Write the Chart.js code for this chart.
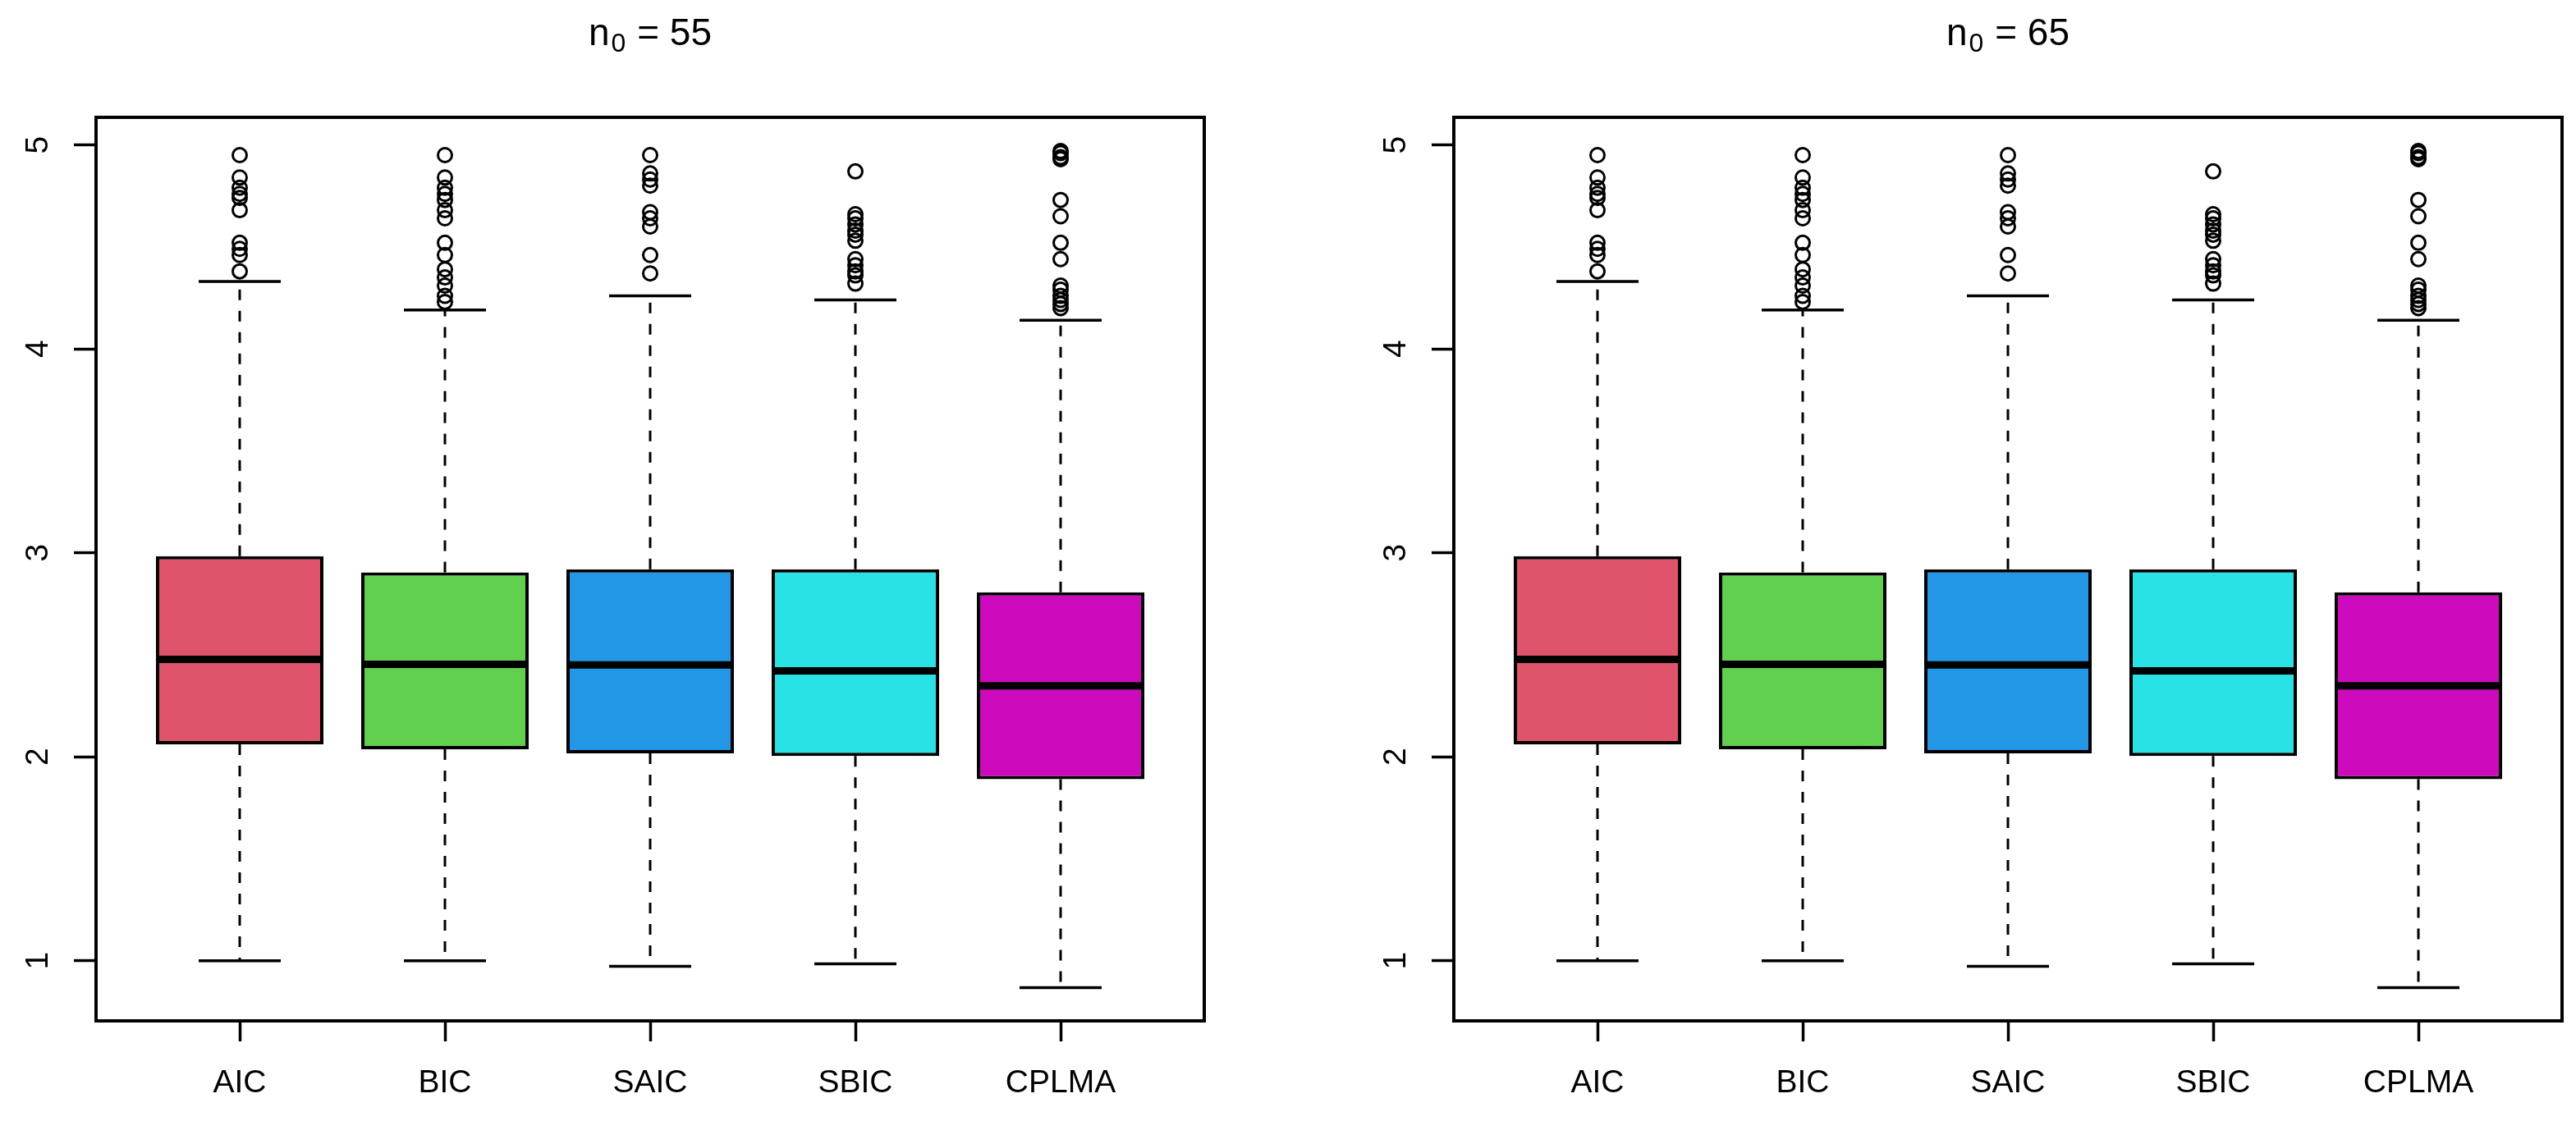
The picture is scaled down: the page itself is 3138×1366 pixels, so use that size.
<!DOCTYPE html>
<html>
<head>
<meta charset="utf-8">
<script src="https://cdn.jsdelivr.net/npm/chart.js@4.4.1/dist/chart.umd.min.js"></script>
<style>
  html, body { margin: 0; padding: 0; background: #ffffff; overflow: hidden; }
  body { width: 3138px; height: 1366px; position: relative; }
  canvas { position: absolute; top: 0; }
</style>
</head>
<body>
<canvas id="panelLeft" width="1480" height="1366" style="left:0px"></canvas>
<canvas id="panelRight" width="1480" height="1366" style="left:1654px"></canvas>
<script>
// ---------------- data ----------------
const categories = ['AIC', 'BIC', 'SAIC', 'SBIC', 'CPLMA'];
const q1Values = [2.061, 2.037, 2.017, 2.004, 1.890];
const medianValues = [2.477, 2.453, 2.450, 2.421, 2.348];
const q3Values = [2.983, 2.904, 2.919, 2.919, 2.806];
const whiskerLowValues = [1.000, 1.000, 0.973, 0.985, 0.868];
const whiskerHighValues = [4.33, 4.19, 4.26, 4.24, 4.14];
const outliersAIC = [4.95, 4.84, 4.79, 4.76, 4.74, 4.68, 4.52, 4.49, 4.46, 4.38];
const outliersBIC = [4.95, 4.84, 4.79, 4.76, 4.73, 4.68, 4.64, 4.52, 4.46, 4.39, 4.35, 4.31, 4.26, 4.23];
const outliersSAIC = [4.95, 4.86, 4.83, 4.80, 4.67, 4.64, 4.60, 4.46, 4.37];
const outliersSBIC = [4.87, 4.66, 4.64, 4.61, 4.58, 4.56, 4.53, 4.44, 4.41, 4.38, 4.36, 4.32];
const outliersCPLMA = [4.97, 4.96, 4.94, 4.93, 4.73, 4.65, 4.52, 4.44, 4.31, 4.29, 4.26, 4.24, 4.22, 4.20];
const outlierLists = [outliersAIC, outliersBIC, outliersSAIC, outliersSBIC, outliersCPLMA];
const yTickValues = [1, 2, 3, 4, 5];
const panelTitleValues = ['55', '65'];
const boxColors = ['#DF536B', '#61D04F', '#2297E6', '#28E2E5', '#CD0BBC'];

// ---------------- style constants ----------------
const FONT = '"Liberation Sans", Arial, Helvetica, sans-serif';
const BOX_HALF = 0.4;      // boxwex 0.8
const STAPLE_HALF = 0.2;   // staplewex 0.5
const Y_MIN = 0.705, Y_MAX = 5.135;
const X_MIN = 0.3, X_MAX = 5.7;

Chart.defaults.font.family = FONT;
Chart.defaults.color = '#000';

function segmentData(pairsFn) {
  const out = [];
  categories.forEach((c, i) => {
    pairsFn(i).forEach(seg => {
      out.push({ x: seg[0], y: seg[1] });
      out.push({ x: seg[2], y: seg[3] });
      out.push({ x: seg[2], y: null });
    });
  });
  return out;
}

const rStylePlugin = {
  id: 'rStyle',
  afterDraw(chart, args, opts) {
    const { ctx, chartArea: a } = chart;
    const yScale = chart.scales.y;
    ctx.save();
    // frame
    ctx.lineWidth = 4;
    ctx.strokeStyle = '#000';
    ctx.strokeRect(a.left, a.top, a.right - a.left, a.bottom - a.top);
    // rotated y labels
    ctx.fillStyle = '#000';
    ctx.font = '39px ' + FONT;
    ctx.textAlign = 'center';
    ctx.textBaseline = 'alphabetic';
    yScale.ticks.forEach(t => {
      const py = yScale.getPixelForValue(t.value);
      ctx.save();
      ctx.translate(a.left - 59, py);
      ctx.rotate(-Math.PI / 2);
      ctx.fillText(String(t.value), 0, 0);
      ctx.restore();
    });
    // title n_0 = value
    const mainFont = '46px ' + FONT;
    const subFont = '32px ' + FONT;
    const partMain1 = 'n', partSub = '0', partMain2 = ' = ' + opts.titleValue;
    ctx.font = mainFont; const w1 = ctx.measureText(partMain1).width;
    ctx.font = subFont; const w2 = ctx.measureText(partSub).width + 3;
    ctx.font = mainFont; const w3 = ctx.measureText(partMain2).width;
    const total = w1 + w2 + w3;
    let sx = (a.left + a.right) / 2 - total / 2;
    const base = 55;
    ctx.textAlign = 'left';
    ctx.font = mainFont; ctx.fillText(partMain1, sx, base);
    ctx.font = subFont; ctx.fillText(partSub, sx + w1 + 2, base + 8);
    ctx.font = mainFont; ctx.fillText(partMain2, sx + w1 + w2, base);
    ctx.restore();
  }
};

function buildPanel(canvasId, titleValue) {
  const boxData = categories.map((c, i) => ({ x: i + 1, y: [q1Values[i], q3Values[i]] }));
  const whiskerData = segmentData(i => [
    [i + 1, q3Values[i], i + 1, whiskerHighValues[i]],
    [i + 1, q1Values[i], i + 1, whiskerLowValues[i]]
  ]);
  const stapleData = segmentData(i => [
    [i + 1 - STAPLE_HALF, whiskerHighValues[i], i + 1 + STAPLE_HALF, whiskerHighValues[i]],
    [i + 1 - STAPLE_HALF, whiskerLowValues[i], i + 1 + STAPLE_HALF, whiskerLowValues[i]]
  ]);
  const medianData = segmentData(i => [
    [i + 1 - BOX_HALF, medianValues[i], i + 1 + BOX_HALF, medianValues[i]]
  ]);
  const outlierData = [];
  outlierLists.forEach((list, i) => list.forEach(v => outlierData.push({ x: i + 1, y: v })));

  new Chart(document.getElementById(canvasId), {
    type: 'bar',
    data: {
      datasets: [
        {
          type: 'line', label: 'whiskers', data: whiskerData, order: 5,
          borderColor: '#000', borderWidth: 3, borderDash: [13, 13], borderCapStyle: 'butt',
          pointRadius: 0, pointHoverRadius: 0, fill: false, spanGaps: false, tension: 0
        },
        {
          type: 'bar', label: 'boxes', data: boxData, order: 4,
          backgroundColor: boxColors, borderColor: '#000', borderWidth: 4, borderSkipped: false,
          barPercentage: 0.816, categoryPercentage: 1.0, grouped: false
        },
        {
          type: 'line', label: 'staples', data: stapleData, order: 3,
          borderColor: '#000', borderWidth: 3.5, borderCapStyle: 'butt',
          pointRadius: 0, pointHoverRadius: 0, fill: false, spanGaps: false, tension: 0
        },
        {
          type: 'line', label: 'medians', data: medianData, order: 2,
          borderColor: '#000', borderWidth: 9, borderCapStyle: 'butt',
          pointRadius: 0, pointHoverRadius: 0, fill: false, spanGaps: false, tension: 0
        },
        {
          type: 'scatter', label: 'outliers', data: outlierData, order: 1,
          pointStyle: 'circle', pointRadius: 8.5, pointHoverRadius: 8.5,
          pointBorderWidth: 3, borderWidth: 3,
          borderColor: '#000', backgroundColor: 'rgba(0,0,0,0)'
        }
      ]
    },
    options: {
      responsive: false,
      animation: false,
      events: [],
      layout: { padding: { top: 143, right: 13, left: 0, bottom: 0 } },
      plugins: {
        legend: { display: false },
        tooltip: { enabled: false },
        title: { display: false },
        rStyle: { titleValue: titleValue }
      },
      scales: {
        x: {
          type: 'linear', min: X_MIN, max: X_MAX, offset: false,
          afterBuildTicks: s => { s.ticks = categories.map((c, i) => ({ value: i + 1 })); },
          afterFit: s => { s.height = 122; },
          ticks: {
            callback: (v, idx) => categories[idx],
            font: { size: 39, family: FONT }, color: '#000', padding: 28,
            maxRotation: 0, minRotation: 0, autoSkip: false
          },
          grid: {
            offset: false, drawOnChartArea: false, drawTicks: true,
            tickLength: 25, tickWidth: 3.5, tickColor: '#000'
          },
          border: { display: false }
        },
        y: {
          type: 'linear', min: Y_MIN, max: Y_MAX,
          afterBuildTicks: s => { s.ticks = yTickValues.map(v => ({ value: v })); },
          afterFit: s => { s.width = 117; },
          ticks: { display: false },
          grid: {
            drawOnChartArea: false, drawTicks: true,
            tickLength: 27, tickWidth: 3.5, tickColor: '#000'
          },
          border: { display: false }
        }
      }
    },
    plugins: [rStylePlugin]
  });
}

buildPanel('panelLeft', panelTitleValues[0]);
buildPanel('panelRight', panelTitleValues[1]);
</script>
</body>
</html>
